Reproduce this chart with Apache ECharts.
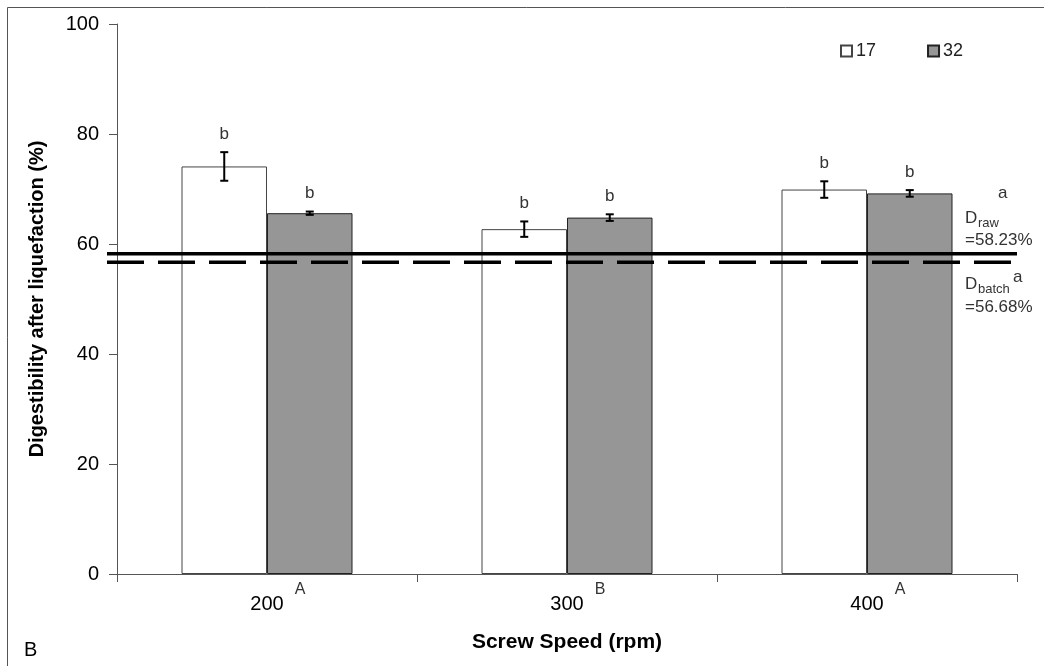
<!DOCTYPE html>
<html>
<head>
<meta charset="utf-8">
<script src="https://cdn.jsdelivr.net/npm/echarts@6/dist/echarts.min.js"></script>
<style>
html,body{margin:0;padding:0;background:#fff;}
#c{width:1044px;height:666px;}
</style>
</head>
<body>
<div id="c"></div>
<script>
const categories = ['200', '300', '400'];
const categoryLetters = ['A', 'B', 'A'];
const seriesNames = ['17', '32'];
const values17 = [74.1, 62.7, 69.9];
const errors17 = [2.6, 1.4, 1.5];
const letters17 = ['b', 'b', 'b'];
const values32 = [65.6, 64.8, 69.2];
const errors32 = [0.3, 0.6, 0.6];
const letters32 = ['b', 'b', 'b'];
const refValues = [58.23, 56.68];
const refNames = ['raw', 'batch'];
const yTicks = [0, 20, 40, 60, 80, 100];

const FONT = "'Liberation Sans', Arial, sans-serif";
const BAR_FRAC = 0.57;

function errSeries(values, errors, letters, sign) {
  return {
    type: 'custom',
    silent: true,
    clip: false,
    z: 5,
    data: values.map((v, i) => [i, v, errors[i]]),
    renderItem: function (params, api) {
      const x = api.value(0), v = api.value(1), e = api.value(2);
      const band = api.size([1, 0])[0];
      const off = sign * band * BAR_FRAC / 4;
      const pt = api.coord([x, v + e]);
      const pb = api.coord([x, v - e]);
      const cx = pt[0] + off;
      const st = { stroke: '#000', lineWidth: 2 };
      return {
        type: 'group',
        children: [
          { type: 'line', shape: { x1: cx, y1: pt[1], x2: cx, y2: pb[1] }, style: st },
          { type: 'line', shape: { x1: cx - 4, y1: pt[1], x2: cx + 4, y2: pt[1] }, style: st },
          { type: 'line', shape: { x1: cx - 4, y1: pb[1], x2: cx + 4, y2: pb[1] }, style: st },
          { type: 'text', style: { text: letters[params.dataIndex], x: cx, y: pt[1] - 18, align: 'center', verticalAlign: 'middle', font: '17px ' + FONT, fill: '#333' } }
        ]
      };
    }
  };
}

const chart = echarts.init(document.getElementById('c'), null, { renderer: 'canvas' });
chart.setOption({
  animation: false,
  backgroundColor: '#fff',
  textStyle: { fontFamily: FONT },
  grid: { left: 117, right: 27, top: 24, bottom: 92, containLabel: false },
  legend: {
    left: 835, top: 37, padding: 5,
    itemWidth: 11, itemHeight: 11, itemGap: 51,
    icon: 'rect',
    textStyle: { fontSize: 18, color: '#222', fontFamily: FONT, padding: [0, 0, 0, -1] },
    data: seriesNames
  },
  xAxis: {
    type: 'category',
    data: categories,
    name: 'Screw Speed (rpm)',
    nameLocation: 'middle',
    nameGap: 58,
    nameTextStyle: { fontSize: 21, fontWeight: 'bold', color: '#000', fontFamily: FONT },
    axisLine: { lineStyle: { color: '#555', width: 1 } },
    axisTick: { show: true, inside: false, length: 8, lineStyle: { color: '#555' } },
    axisLabel: { fontSize: 20, color: '#000', margin: 20, fontFamily: FONT },
    splitLine: { show: false }
  },
  yAxis: {
    type: 'value',
    min: yTicks[0], max: yTicks[yTicks.length - 1], interval: 20,
    name: 'Digestibility after liquefaction (%)',
    nameLocation: 'middle',
    nameGap: 70,
    nameTextStyle: { fontSize: 20, fontWeight: 'bold', color: '#000', fontFamily: FONT },
    axisLine: { show: true, lineStyle: { color: '#555', width: 1 } },
    axisTick: { show: true, inside: false, length: 8, lineStyle: { color: '#555' } },
    axisLabel: { fontSize: 20, color: '#000', margin: 18, fontFamily: FONT },
    splitLine: { show: false }
  },
  series: [
    {
      name: seriesNames[0], type: 'bar', data: values17,
      barGap: '0%', barCategoryGap: '43%',
      itemStyle: { color: '#fff', borderColor: '#444', borderWidth: 1 }
    },
    {
      name: seriesNames[1], type: 'bar', data: values32,
      itemStyle: { color: '#969696', borderColor: '#222', borderWidth: 1 }
    },
    errSeries(values17, errors17, letters17, -1),
    errSeries(values32, errors32, letters32, 1),
    {
      type: 'custom', silent: true, clip: false, z: 6,
      data: refValues.map((v, i) => [0, v, i]),
      renderItem: function (params, api) {
        const i = params.dataIndex;
        const cs = params.coordSys;
        const y = api.coord([0, api.value(1)])[1];
        const x0 = cs.x - 10, x1 = cs.x + cs.width;
        const children = [];
        const tx = x1 - 52;
        const f = '17px ' + FONT, fs = '13px ' + FONT;
        if (i === 0) {
          children.push({ type: 'line', shape: { x1: x0, y1: y, x2: x1, y2: y }, style: { stroke: '#000', lineWidth: 3.5 } });
          children.push({ type: 'text', style: { text: 'a', x: tx + 33, y: y - 60, align: 'left', verticalAlign: 'middle', font: f, fill: '#333' } });
          children.push({ type: 'text', style: { text: 'D', x: tx, y: y - 35, align: 'left', verticalAlign: 'middle', font: f, fill: '#333' } });
          children.push({ type: 'text', style: { text: refNames[0], x: tx + 13, y: y - 30, align: 'left', verticalAlign: 'middle', font: fs, fill: '#333' } });
          children.push({ type: 'text', style: { text: '=' + refValues[0].toFixed(2) + '%', x: tx, y: y - 13, align: 'left', verticalAlign: 'middle', font: f, fill: '#333' } });
        } else {
          children.push({ type: 'line', shape: { x1: x0, y1: y, x2: x1 - 4, y2: y }, style: { stroke: '#000', lineWidth: 3.5, lineDash: [37, 14] } });
          children.push({ type: 'text', style: { text: 'D', x: tx, y: y + 22, align: 'left', verticalAlign: 'middle', font: f, fill: '#333' } });
          children.push({ type: 'text', style: { text: refNames[1], x: tx + 13, y: y + 27, align: 'left', verticalAlign: 'middle', font: fs, fill: '#333' } });
          children.push({ type: 'text', style: { text: 'a', x: tx + 48, y: y + 15, align: 'left', verticalAlign: 'middle', font: f, fill: '#333' } });
          children.push({ type: 'text', style: { text: '=' + refValues[1].toFixed(2) + '%', x: tx, y: y + 45, align: 'left', verticalAlign: 'middle', font: f, fill: '#333' } });
        }
        return { type: 'group', children: children };
      }
    },
    {
      type: 'custom', silent: true, clip: false, z: 6,
      data: categoryLetters.map((l, i) => [i, 0]),
      renderItem: function (params, api) {
        const p = api.coord([api.value(0), 0]);
        return { type: 'text', style: { text: categoryLetters[params.dataIndex], x: p[0] + 33, y: p[1] + 16, align: 'center', verticalAlign: 'middle', font: '16px ' + FONT, fill: '#333' } };
      }
    }
  ],
  graphic: [
    { type: 'rect', silent: true, shape: { x: 7.5, y: 7.5, width: 1100, height: 700 }, style: { fill: 'none', stroke: '#555', lineWidth: 1 }, z: 0 },
    { type: 'text', left: 24, top: 640, style: { text: 'B', font: '20px ' + FONT, fill: '#000' } }
  ]
});
</script>
</body>
</html>
